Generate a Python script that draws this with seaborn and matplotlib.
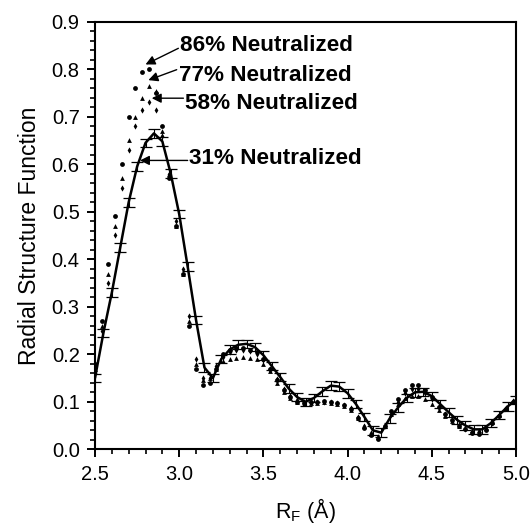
import numpy as np
import pandas as pd
import matplotlib
matplotlib.use("Agg")
import matplotlib.pyplot as plt
import seaborn as sns
from matplotlib.ticker import MultipleLocator

# ---- data ----
# 31% neutralized (solid line with error bars)
x31 = [2.50, 2.55, 2.60, 2.65, 2.70, 2.75, 2.80, 2.85, 2.90, 2.95,
       3.00, 3.05, 3.10, 3.15, 3.20, 3.25, 3.30, 3.35, 3.40, 3.45,
       3.50, 3.55, 3.60, 3.65, 3.70, 3.75, 3.80, 3.85, 3.90, 3.95,
       4.00, 4.05, 4.10, 4.15, 4.20, 4.25, 4.30, 4.35, 4.40, 4.45,
       4.50, 4.55, 4.60, 4.65, 4.70, 4.75, 4.80, 4.85, 4.90, 4.95, 5.00]
y31 = [0.150, 0.245, 0.330, 0.425, 0.520, 0.595, 0.645, 0.665, 0.648, 0.580,
       0.495, 0.385, 0.272, 0.172, 0.150, 0.190, 0.210, 0.220, 0.222, 0.215,
       0.198, 0.175, 0.152, 0.128, 0.110, 0.100, 0.108, 0.122, 0.134, 0.132,
       0.118, 0.095, 0.068, 0.040, 0.035, 0.065, 0.088, 0.108, 0.120, 0.121,
       0.112, 0.095, 0.078, 0.062, 0.050, 0.042, 0.042, 0.055, 0.072, 0.090, 0.104]
err31 = [0.009] * len(x31)

# dotted series share a grid
xdot = [2.50, 2.54, 2.58, 2.62, 2.66, 2.70, 2.74, 2.78, 2.82, 2.86,
        2.90, 2.94, 2.98, 3.02, 3.06, 3.10, 3.14, 3.18, 3.22, 3.26,
        3.30, 3.34, 3.38, 3.42, 3.46, 3.50, 3.54, 3.58, 3.62, 3.66,
        3.70, 3.74, 3.78, 3.82, 3.86, 3.90, 3.94, 3.98, 4.02, 4.06,
        4.10, 4.14, 4.18, 4.22, 4.26, 4.30, 4.34, 4.38, 4.42, 4.46,
        4.50, 4.54, 4.58, 4.62, 4.66, 4.70, 4.74, 4.78, 4.82, 4.86,
        4.90, 4.94, 4.98]
y86 = [0.18, 0.27, 0.39, 0.49, 0.60, 0.70, 0.76, 0.795, 0.80, 0.75,
       0.68, 0.57, 0.47, 0.37, 0.26, 0.17, 0.135, 0.14, 0.17, 0.20,
       0.21, 0.213, 0.213, 0.21, 0.205, 0.19, 0.17, 0.145, 0.125, 0.11,
       0.10, 0.098, 0.10, 0.10, 0.102, 0.10, 0.098, 0.094, 0.085, 0.065,
       0.045, 0.03, 0.022, 0.05, 0.08, 0.105, 0.125, 0.135, 0.135, 0.125,
       0.11, 0.09, 0.075, 0.062, 0.05, 0.042, 0.035, 0.033, 0.04, 0.055,
       0.07, 0.085, 0.10]
y77 = [0.17, 0.26, 0.37, 0.47, 0.57, 0.65, 0.70, 0.74, 0.765, 0.755,
       0.67, 0.58, 0.47, 0.37, 0.27, 0.18, 0.145, 0.15, 0.17, 0.185,
       0.19, 0.193, 0.195, 0.193, 0.19, 0.18, 0.165, 0.14, 0.12, 0.107,
       0.10, 0.096, 0.097, 0.098, 0.099, 0.098, 0.096, 0.092, 0.083, 0.065,
       0.048, 0.032, 0.025, 0.048, 0.075, 0.095, 0.108, 0.113, 0.112, 0.105,
       0.095, 0.082, 0.07, 0.06, 0.05, 0.044, 0.04, 0.04, 0.045, 0.058,
       0.072, 0.087, 0.10]
y58 = [0.16, 0.25, 0.35, 0.45, 0.55, 0.63, 0.68, 0.715, 0.732, 0.715,
       0.66, 0.58, 0.48, 0.38, 0.28, 0.19, 0.15, 0.15, 0.175, 0.195,
       0.205, 0.21, 0.21, 0.207, 0.20, 0.188, 0.17, 0.148, 0.127, 0.112,
       0.103, 0.10, 0.10, 0.10, 0.10, 0.10, 0.098, 0.094, 0.086, 0.068,
       0.05, 0.034, 0.026, 0.05, 0.078, 0.10, 0.118, 0.126, 0.126, 0.118,
       0.105, 0.088, 0.074, 0.062, 0.051, 0.043, 0.037, 0.036, 0.042, 0.056,
       0.071, 0.086, 0.101]

labels = ["86% Neutralized", "77% Neutralized", "58% Neutralized", "31% Neutralized"]
label_pos = [(3.005, 0.849), (2.999, 0.786), (3.034, 0.727), (3.058, 0.613)]
arrow_tip = [(2.80, 0.81), (2.817, 0.777), (2.837, 0.739), (2.767, 0.608)]
arrow_tail = [(2.995, 0.844), (2.985, 0.799), (3.025, 0.739), (3.05, 0.608)]

# ---- plotting ----
sns.set_style("ticks", rc={"text.color": "black", "axes.labelcolor": "black",
                           "xtick.color": "black", "ytick.color": "black",
                           "axes.edgecolor": "black"})
plt.rcParams["font.family"] = ["Liberation Sans", "DejaVu Sans"]

fig = plt.figure(figsize=(5.32, 5.27), dpi=100)
ax = fig.add_axes([95 / 532, 1 - 449.3 / 527, (516 - 95) / 532, (449.3 - 21.7) / 527])

df31 = pd.DataFrame({"x": x31, "y": y31})
sns.lineplot(data=df31, x="x", y="y", ax=ax, color="black", linewidth=1.8)
ax.errorbar(x31, y31, yerr=err31, fmt="none", ecolor="black",
            elinewidth=0.8, capsize=4, capthick=0.9)

d86 = pd.DataFrame({"x": xdot, "y": y86})
d77 = pd.DataFrame({"x": xdot, "y": y77})
d58 = pd.DataFrame({"x": xdot, "y": y58})
sns.scatterplot(data=d86, x="x", y="y", ax=ax, marker="o", color="black",
                s=12, linewidth=0)
sns.scatterplot(data=d77, x="x", y="y", ax=ax, marker="^", color="black",
                s=12, linewidth=0)
sns.scatterplot(data=d58, x="x", y="y", ax=ax, marker="d", color="black",
                s=10, linewidth=0)

for lab, pos, tip, tail in zip(labels, label_pos, arrow_tip, arrow_tail):
    ax.text(pos[0], pos[1], lab, ha="left", va="center", fontsize=16.2,
            fontweight="bold", color="black")
    ax.annotate("", xy=tip, xytext=tail,
                arrowprops=dict(arrowstyle="-|>", color="black", lw=1.0,
                                mutation_scale=14, shrinkA=0, shrinkB=0))

ax.set_xlim(2.5, 5.0)
ax.set_ylim(0.0, 0.9)
ax.xaxis.set_major_locator(MultipleLocator(0.5))
ax.xaxis.set_minor_locator(MultipleLocator(0.1))
ax.yaxis.set_major_locator(MultipleLocator(0.1))
ax.yaxis.set_minor_locator(MultipleLocator(0.02))
ax.xaxis.set_major_formatter(matplotlib.ticker.FormatStrFormatter("%.1f"))
ax.yaxis.set_major_formatter(matplotlib.ticker.FormatStrFormatter("%.1f"))
ax.tick_params(which="major", direction="out", length=6, width=1.4,
               labelsize=14.5, top=False, right=False, pad=5, colors="black")
ax.tick_params(which="minor", direction="out", length=3.5, width=1.2,
               top=False, right=False, colors="black")
for sp in ax.spines.values():
    sp.set_visible(True)
    sp.set_linewidth(1.5)
    sp.set_color("black")

ax.set_xlabel("R$_\\mathregular{F}$ (Å)", fontsize=15.5, labelpad=9, color="black")
ax.set_ylabel("Radial Structure Function", fontsize=16.5, labelpad=8, color="black")

fig.savefig("out.png", dpi=100)
